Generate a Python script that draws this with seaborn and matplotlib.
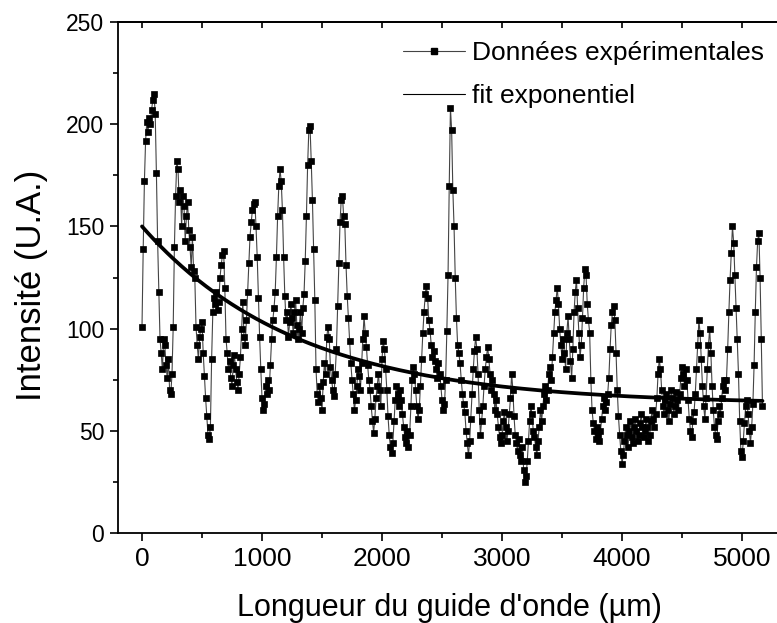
import numpy as np
import pandas as pd
import matplotlib
matplotlib.use('Agg')
import matplotlib.pyplot as plt
import seaborn as sns
from matplotlib.ticker import MultipleLocator, NullFormatter
from matplotlib.lines import Line2D

# Data (step 10 um), one list per 500 um
step = 10
seg_0000 = [101, 139, 172, 192, 201, 196, 203, 200, 207, 212,
            215, 205, 176, 143, 118, 95, 88, 80, 95, 92,
            82, 76, 85, 70, 68, 78, 101, 140, 165, 182,
            178, 162, 168, 150, 165, 160, 143, 155, 162, 148,
            140, 130, 145, 128, 125, 101, 92, 85, 96, 100]
seg_0500 = [103, 88, 77, 66, 57, 48, 46, 52, 85, 108,
            115, 112, 118, 109, 113, 125, 131, 136, 138, 120,
            95, 88, 80, 84, 76, 72, 82, 87, 80, 74,
            70, 78, 86, 100, 113, 96, 92, 104, 118, 132,
            145, 152, 158, 161, 162, 150, 135, 115, 96, 80]
seg_1000 = [66, 60, 63, 72, 68, 75, 70, 82, 95, 104,
            110, 118, 135, 155, 170, 178, 172, 158, 135, 116,
            104, 108, 96, 103, 112, 105, 98, 108, 114, 102,
            95, 100, 108, 98, 110, 117, 133, 155, 180, 197,
            199, 182, 163, 139, 114, 80, 68, 64, 72, 66]
seg_1500 = [60, 74, 83, 78, 96, 101, 95, 81, 75, 70,
            67, 78, 90, 111, 132, 152, 163, 165, 155, 151,
            131, 116, 105, 94, 83, 75, 68, 60, 65, 72,
            80, 77, 70, 83, 95, 106, 98, 91, 82, 75,
            70, 62, 55, 49, 56, 66, 72, 78, 70, 62]
seg_2000 = [85, 94, 90, 80, 70, 57, 48, 42, 39, 44,
            55, 65, 72, 68, 62, 70, 65, 58, 52, 47,
            44, 50, 42, 48, 62, 75, 81, 78, 70, 62,
            56, 60, 72, 85, 98, 108, 117, 121, 115, 104,
            99, 92, 86, 89, 84, 80, 76, 83, 78, 72]
seg_2500 = [65, 60, 63, 75, 99, 126, 170, 208, 197, 168,
            150, 125, 105, 92, 88, 83, 75, 68, 63, 59,
            50, 44, 38, 45, 56, 68, 80, 89, 96, 90,
            78, 60, 48, 55, 62, 72, 80, 86, 91, 85,
            78, 70, 75, 68, 60, 65, 58, 52, 47, 44]
seg_3000 = [48, 55, 59, 52, 45, 50, 58, 66, 78, 70,
            57, 48, 44, 40, 46, 38, 35, 42, 31, 25,
            28, 35, 45, 55, 62, 58, 50, 47, 42, 38,
            45, 52, 60, 55, 62, 68, 72, 65, 70, 78,
            81, 75, 86, 98, 108, 114, 120, 112, 100, 92]
seg_3500 = [85, 95, 88, 80, 98, 106, 95, 84, 76, 90,
            108, 118, 124, 110, 98, 86, 92, 105, 120, 129,
            126, 112, 104, 98, 75, 60, 54, 50, 46, 52,
            48, 45, 50, 56, 62, 66, 60, 64, 68, 76,
            90, 102, 108, 111, 104, 88, 70, 57, 48, 40]
seg_4000 = [34, 38, 45, 52, 48, 42, 50, 55, 47, 44,
            52, 56, 50, 45, 48, 54, 58, 52, 47, 50,
            56, 52, 45, 48, 55, 60, 56, 52, 58, 66,
            78, 85, 80, 70, 62, 58, 65, 68, 60, 55,
            63, 70, 66, 58, 62, 69, 65, 60, 68, 76]
seg_4500 = [81, 78, 72, 80, 75, 65, 56, 50, 47, 55,
            59, 68, 80, 92, 104, 98, 85, 72, 62, 56,
            66, 80, 92, 100, 88, 72, 60, 52, 48, 46,
            55, 62, 58, 66, 72, 75, 70, 75, 90, 108,
            124, 137, 150, 142, 126, 110, 95, 78, 55, 40,
            37, 45, 54, 62, 65, 58, 50, 44, 52, 63,
            82, 108, 130, 143, 147, 125, 95, 62]

intensity = (seg_0000 + seg_0500 + seg_1000 + seg_1500 + seg_2000 +
             seg_2500 + seg_3000 + seg_3500 + seg_4000 + seg_4500)
longueur = [i * step for i in range(len(intensity))]
df = pd.DataFrame({'x': longueur, 'y': intensity})

# exponential fit parameters
fit_y0, fit_a, fit_t = 63.0, 87.0, 1300.0
fit_x = np.linspace(0, longueur[-1], 300)
fit_df = pd.DataFrame({'x': fit_x, 'y': fit_y0 + fit_a * np.exp(-fit_x / fit_t)})

sns.set_style('ticks')
plt.rcParams['font.family'] = ['Liberation Sans', 'DejaVu Sans']
plt.rcParams['text.color'] = 'black'
plt.rcParams['axes.labelcolor'] = 'black'

fig = plt.figure(figsize=(7.77, 6.23), dpi=100)
ax = fig.add_axes([118 / 777, 90 / 623, 662 / 777, 511 / 623])

sns.lineplot(data=df, x='x', y='y', ax=ax, color='#444444', linewidth=0.8,
             marker='s', markersize=4, markerfacecolor='black',
             markeredgecolor='black', markeredgewidth=0.5, zorder=2)
sns.lineplot(data=fit_df, x='x', y='y', ax=ax, color='black', linewidth=2.7,
             zorder=3)

ax.set_xlim(-200, 5316)
ax.set_ylim(0, 250)
ax.xaxis.set_major_locator(MultipleLocator(1000))
ax.xaxis.set_minor_locator(MultipleLocator(500))
ax.yaxis.set_major_locator(MultipleLocator(50))
ax.yaxis.set_minor_locator(MultipleLocator(25))

ax.spines['right'].set_visible(False)
for s in ['left', 'bottom', 'top']:
    ax.spines[s].set_linewidth(1.3)
    ax.spines[s].set_color('black')

ax.tick_params(axis='both', which='major', direction='out', length=6,
               width=1.2, pad=4, colors='black')
ax.tick_params(axis='both', which='minor', direction='out', length=3.5,
               width=1.2, colors='black')
ax.tick_params(axis='x', labelsize=19)
ax.tick_params(axis='y', labelsize=16.5)

# top axis: inward ticks, no labels
top = ax.secondary_xaxis('top')
top.xaxis.set_major_locator(MultipleLocator(500))
top.xaxis.set_major_formatter(NullFormatter())
top.tick_params(direction='in', length=4, width=1.2, colors='black')
top.spines['top'].set_linewidth(1.3)
top.spines['top'].set_color('black')

ax.set_xlabel("Longueur du guide d'onde (µm)", fontsize=22, labelpad=16)
ax.set_ylabel('Intensité (U.A.)', fontsize=25, labelpad=10)
ax.yaxis.set_label_coords(-0.105, 0.485)

handles = [Line2D([], [], color='#444444', linewidth=0.8, marker='s',
                  markersize=4, markerfacecolor='black', markeredgecolor='black'),
           Line2D([], [], color='black', linewidth=0.8)]
fig.legend(handles, ['Données expérimentales', 'fit exponentiel'],
           loc='upper left', bbox_to_anchor=(403 / 777, 1 - 41 / 623),
           frameon=False, fontsize=19, handlelength=2.35, handletextpad=0.28,
           labelspacing=0.72, borderpad=0, borderaxespad=0, numpoints=1)

fig.savefig('out.png', dpi=100)
